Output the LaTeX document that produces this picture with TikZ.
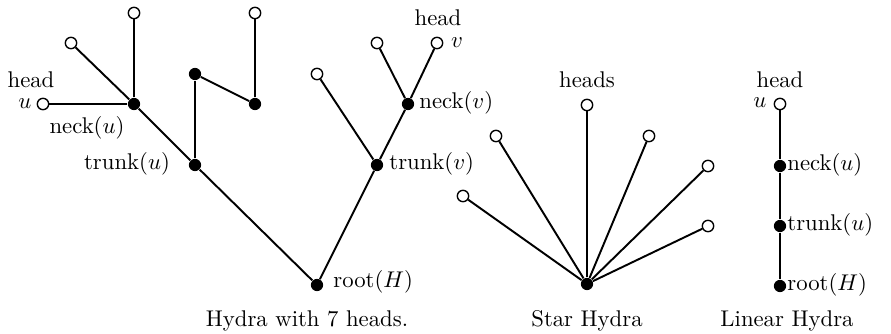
\documentclass[tikz,border=0pt]{standalone}
\begin{document}
\begin{tikzpicture}[x=0.44pt,y=-0.44pt,
  open/.style={circle,draw,fill=white,line width=0.6pt,inner sep=0pt,minimum size=5pt},
  full/.style={circle,fill=black,inner sep=0pt,minimum size=5.4pt},
  edge/.style={line width=0.85pt},
  lbl/.style={inner sep=0pt}]
\useasboundingbox (0,0) rectangle (891,334);
% ---- Hydra with 7 heads
\node[full] (root) at (317,285) {};
\node[full] (tu) at (195,165) {};
\node[full] (tv) at (377,165) {};
\node[full] (nu) at (134,104) {};
\node[full] (nv) at (408,104) {};
\node[full] (z1) at (195,74) {};
\node[full] (z2) at (255,104) {};
\node[open] (hu) at (43,104) {};
\node[open] (h1) at (71,43) {};
\node[open] (h2) at (134,13) {};
\node[open] (h3) at (255,13) {};
\node[open] (h4) at (317,74) {};
\node[open] (h5) at (377,43) {};
\node[open] (hv) at (437,43) {};
\draw[edge] (root) -- (tu);
\draw[edge] (root) -- (tv);
\draw[edge] (tu) -- (nu);
\draw[edge] (tu) -- (z1);
\draw[edge] (z1) -- (z2);
\draw[edge] (z2) -- (h3);
\draw[edge] (nu) -- (hu);
\draw[edge] (nu) -- (h1);
\draw[edge] (nu) -- (h2);
\draw[edge] (tv) -- (h4);
\draw[edge] (tv) -- (nv);
\draw[edge] (nv) -- (h5);
\draw[edge] (nv) -- (hv);
\node[lbl] (lhu) at (31,80) {head};
\node[lbl] (lu) at (25,104) {$u$};
\node[lbl] (lnu) at (87,128) {neck$(u)$};
\node[lbl] (ltu) at (127,164) {trunk$(u)$};
\node[lbl] (lhv) at (438,18) {head};
\node[lbl] (lv) at (457,43) {$v$};
\node[lbl,anchor=west] (lnv) at (419,103) {neck$(v)$};
\node[lbl,anchor=west] (ltv) at (389,164) {trunk$(v)$};
\node[lbl,anchor=west] (lr) at (333,282) {root$(H)$};
\node[lbl] (cap1) at (307,321) {Hydra with 7 heads.};
% ---- Star Hydra
\node[full] (sc) at (587,284) {};
\node[open] (s1) at (463,196) {};
\node[open] (s2) at (496,136) {};
\node[open] (s3) at (587,105) {};
\node[open] (s4) at (649,136) {};
\node[open] (s5) at (708,166) {};
\node[open] (s6) at (708,226) {};
\foreach \s in {s1,s2,s3,s4,s5,s6} \draw[edge] (sc) -- (\s);
\node[lbl] (lhs) at (587,80) {heads};
\node[lbl] (cap2) at (587,321) {Star Hydra};
% ---- Linear Hydra
\node[open] (lh) at (780,104) {};
\node[full] (ln) at (780,166) {};
\node[full] (lt) at (780,226) {};
\node[full] (lrt) at (780,286) {};
\draw[edge] (lh) -- (ln);
\draw[edge] (ln) -- (lt);
\draw[edge] (lt) -- (lrt);
\node[lbl] (llh) at (780,80) {head};
\node[lbl] (llu) at (760,103) {$u$};
\node[lbl,anchor=west] (lln) at (787,165) {neck$(u)$};
\node[lbl,anchor=west] (llt) at (787,225) {trunk$(u)$};
\node[lbl,anchor=west] (llr) at (787,285) {root$(H)$};
\node[lbl] (cap3) at (787,321) {Linear Hydra};
\end{tikzpicture}
\end{document}
